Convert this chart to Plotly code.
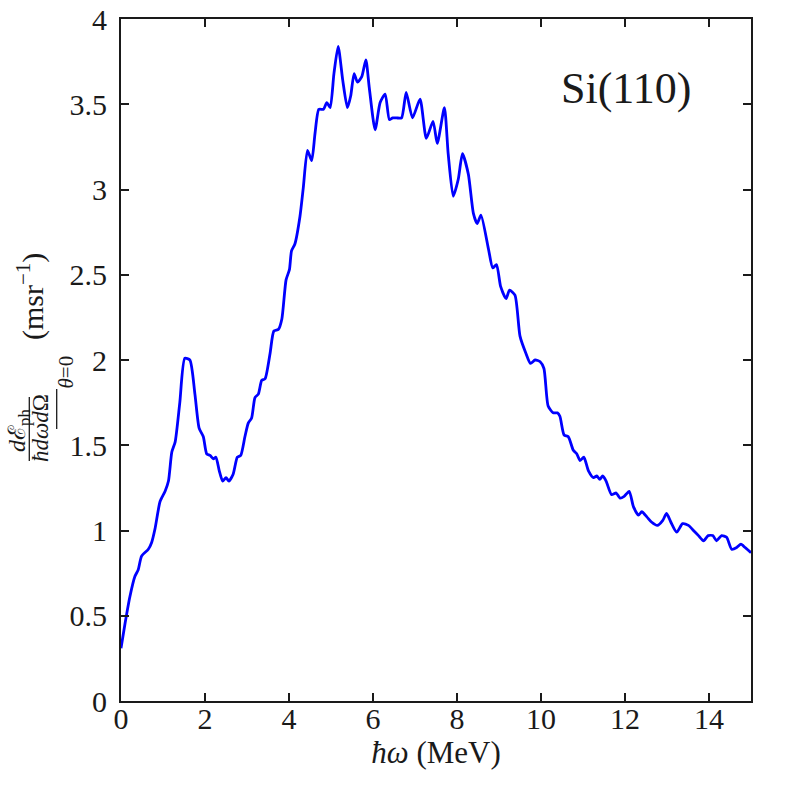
import plotly.graph_objects as go

energy = [0.00, 0.10, 0.21, 0.33, 0.41, 0.49, 0.65, 0.73, 0.81, 0.93, 1.05, 1.13, 1.21, 1.29, 1.40,
          1.52, 1.64, 1.76, 1.86, 1.96, 2.04, 2.12, 2.20, 2.26, 2.34, 2.42, 2.50, 2.57, 2.67, 2.77,
          2.85, 2.95, 3.03, 3.11, 3.19, 3.27, 3.35, 3.43, 3.55, 3.64, 3.75, 3.83, 3.93, 4.01, 4.06,
          4.14, 4.26, 4.34, 4.44, 4.54, 4.62, 4.71, 4.82, 4.90, 4.98, 5.07, 5.17, 5.28, 5.39, 5.47,
          5.55, 5.63, 5.73, 5.83, 5.91, 6.05, 6.17, 6.29, 6.39, 6.47, 6.56, 6.68, 6.79, 6.94, 7.12,
          7.27, 7.43, 7.53, 7.70, 7.79, 7.91, 8.03, 8.13, 8.27, 8.39, 8.48, 8.57, 8.75, 8.85, 8.94,
          9.04, 9.17, 9.25, 9.38, 9.50, 9.64, 9.75, 9.86, 9.98, 10.07, 10.17, 10.29, 10.39, 10.45,
          10.55, 10.65, 10.77, 10.85, 10.93, 11.02, 11.13, 11.25, 11.33, 11.40, 11.47, 11.55, 11.68,
          11.79, 11.88, 11.98, 12.10, 12.20, 12.32, 12.40, 12.52, 12.63, 12.77, 12.90, 12.99, 13.09,
          13.23, 13.37, 13.51, 13.63, 13.75, 13.87, 13.98, 14.09, 14.18, 14.30, 14.42, 14.54, 14.66,
          14.76, 14.86, 15.00]
intensity = [0.31, 0.46, 0.61, 0.73, 0.77, 0.85, 0.89, 0.93, 1.01, 1.17, 1.23, 1.29, 1.46, 1.52, 1.75,
             2.01, 2.00, 1.80, 1.60, 1.55, 1.45, 1.44, 1.42, 1.43, 1.35, 1.29, 1.31, 1.29, 1.33, 1.43,
             1.44, 1.55, 1.63, 1.66, 1.78, 1.80, 1.88, 1.89, 2.04, 2.17, 2.18, 2.24, 2.47, 2.53, 2.64,
             2.68, 2.84, 3.01, 3.23, 3.17, 3.33, 3.47, 3.47, 3.51, 3.48, 3.68, 3.84, 3.64, 3.48, 3.55,
             3.68, 3.63, 3.66, 3.76, 3.60, 3.35, 3.51, 3.56, 3.41, 3.42, 3.42, 3.42, 3.57, 3.42, 3.53,
             3.30, 3.40, 3.27, 3.48, 3.21, 2.96, 3.06, 3.21, 3.09, 2.86, 2.80, 2.85, 2.65, 2.54, 2.56,
             2.43, 2.36, 2.41, 2.38, 2.14, 2.04, 1.98, 2.00, 1.99, 1.95, 1.73, 1.69, 1.69, 1.67,
             1.56, 1.55, 1.47, 1.45, 1.41, 1.43, 1.35, 1.31, 1.32, 1.30, 1.32, 1.29, 1.21,
             1.22, 1.19, 1.20, 1.23, 1.14, 1.09, 1.11, 1.08, 1.05, 1.03, 1.06, 1.10, 1.05,
             0.99, 1.04, 1.03, 1.00, 0.97, 0.94, 0.97, 0.97, 0.94, 0.97, 0.96, 0.89, 0.90,
             0.92, 0.90, 0.87]

x_ticks = [0, 2, 4, 6, 8, 10, 12, 14]
y_ticks = [0, 0.5, 1, 1.5, 2, 2.5, 3, 3.5, 4]
y_tick_labels = ["0", "0.5", "1", "1.5", "2", "2.5", "3", "3.5", "4"]

SERIF = "Liberation Serif, Times New Roman, serif"
INK = "#1a1a1a"

W, H = 789, 789
L, T = 121, 19
PR, PB = 751, 701
R, B = W - PR, H - PB
PW, PH = PR - L, PB - T


def px(xp):
    return (xp - L) / PW


def py(yp):
    return (PB - yp) / PH


fig = go.Figure()
fig.add_trace(go.Scatter(x=energy, y=intensity, mode="lines",
                         line=dict(color="#0000ff", width=2.8, shape="spline", smoothing=0.6),
                         showlegend=False, hoverinfo="skip"))

axis_common = dict(showline=True, linecolor=INK, linewidth=2, mirror="ticks",
                   ticks="inside", ticklen=8, tickwidth=1.5, tickcolor=INK,
                   showgrid=False, zeroline=False, automargin=False,
                   ticklabeloverflow="allow",
                   tickfont=dict(family=SERIF, size=30, color=INK))

fig.update_layout(
    width=W, height=H,
    margin=dict(l=L, r=R, t=T, b=B, autoexpand=False),
    paper_bgcolor="white", plot_bgcolor="white",
    xaxis=dict(range=[0, 15], tickvals=x_ticks, ticklabelstandoff=-10,
               title=dict(text="<i>ħω</i> (MeV)",
                          font=dict(family=SERIF, size=31, color=INK), standoff=2),
               **axis_common),
    yaxis=dict(range=[0, 4], tickvals=y_ticks, ticktext=y_tick_labels,
               ticklabelstandoff=6, **axis_common),
)

fs = dict(family=SERIF, color=INK)
ann = [
    dict(text="<i>d</i>ℰ<sub>ph</sub>", x=px(19), y=py(431), font=dict(size=24, **fs)),
    dict(text="<i>ħdωd</i>Ω", x=px(40), y=py(428), font=dict(size=23, **fs)),
    dict(text="<i>θ</i>=0", x=px(65.5), y=py(372), font=dict(size=21, **fs)),
    dict(text="(msr<sup>−1</sup>)", x=px(30), y=py(297), font=dict(size=30, **fs)),
]
for a in ann:
    fig.add_annotation(xref="paper", yref="paper", showarrow=False, textangle=-90,
                       xanchor="center", yanchor="middle", **a)

fig.add_annotation(xref="paper", yref="paper", showarrow=False, text="Si(110)",
                   x=px(626), y=py(88), xanchor="center", yanchor="middle",
                   font=dict(size=44, **fs))

# fraction bar and evaluation bar of the y-axis label
fig.add_shape(type="line", xref="paper", yref="paper", x0=px(29.3), x1=px(29.3),
              y0=py(397), y1=py(461), line=dict(color=INK, width=1.3))
fig.add_shape(type="line", xref="paper", yref="paper", x0=px(56.7), x1=px(56.7),
              y0=py(389), y1=py(429), line=dict(color=INK, width=1.3))

fig.write_html("out.html", config={"displayModeBar": False},
               post_script="document.body.style.margin='0';")
